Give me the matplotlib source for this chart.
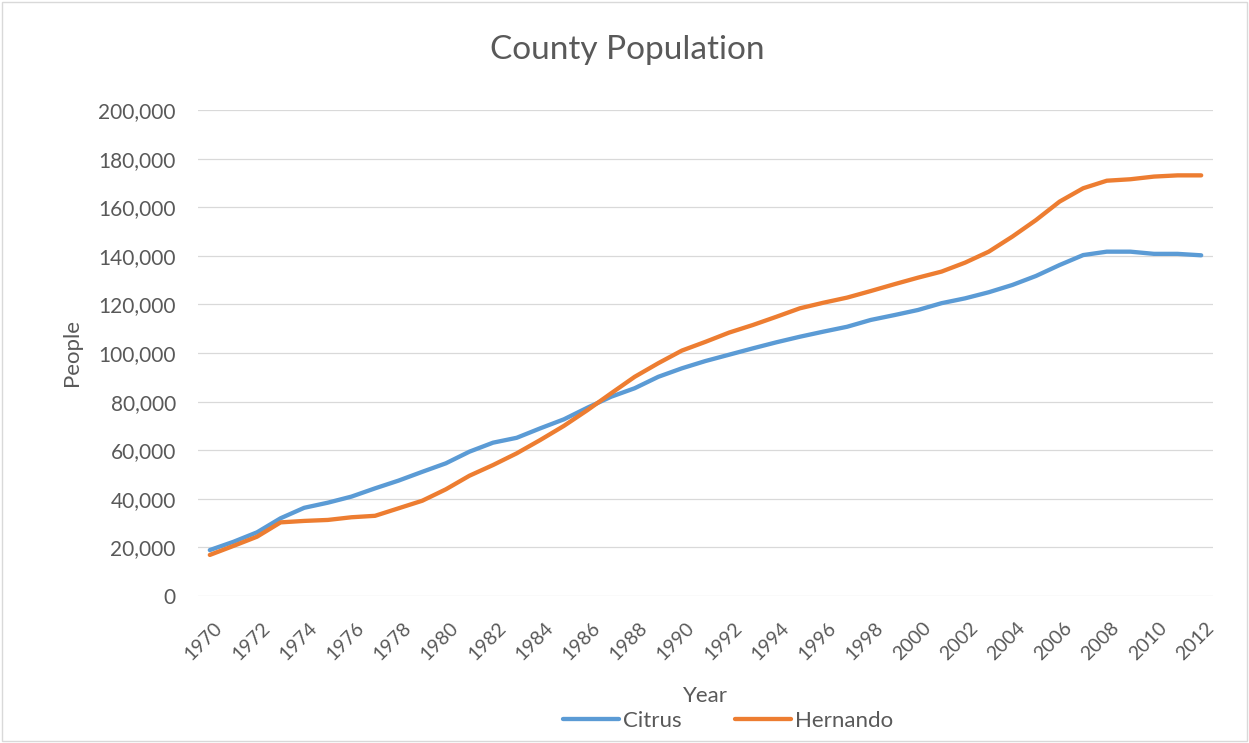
import matplotlib
matplotlib.use("Agg")
import matplotlib.pyplot as plt
import matplotlib.transforms as mtransforms
from matplotlib.patches import Rectangle
from matplotlib.ticker import FuncFormatter

years = list(range(1970, 2013))
citrus = [18900, 22300, 26200, 32000, 36300, 38400, 40900, 44300, 47500, 51100,
          54600, 59400, 63100, 65100, 69000, 72700, 77500, 82000, 85500, 90200,
          93700, 96700, 99300, 101900, 104400, 106700, 108800, 110800, 113600, 115600,
          117700, 120500, 122500, 125000, 128000, 131700, 136200, 140300, 141700, 141700,
          140800, 140800, 140200]
hernando = [16900, 20600, 24400, 30300, 30900, 31300, 32400, 33000, 36100, 39200,
            43900, 49500, 53900, 58700, 64200, 70000, 76500, 83400, 90200, 95800,
            101000, 104600, 108400, 111500, 114900, 118400, 120700, 122800, 125500, 128300,
            131000, 133500, 137200, 141700, 147900, 154700, 162300, 167800, 170900, 171500,
            172600, 173100, 173100]
tick_years = years[::2]
y_ticks = list(range(0, 200001, 20000))

title = "County Population"
x_title = "Year"
y_title = "People"
series_names = ["Citrus", "Hernando"]
colors = ["#5B9BD5", "#ED7D31"]

plt.rcParams['font.family'] = ['Lato', 'DejaVu Sans']
text_color = "#595959"

W, H = 1249, 743
fig = plt.figure(figsize=(W / 100, H / 100), dpi=100)
fig.patch.set_facecolor("white")

# chart border
fig.patches.append(Rectangle((2 / W, 2 / H), (W - 4) / W, (H - 4) / H,
                             transform=fig.transFigure, fill=False,
                             edgecolor="#D9D9D9", linewidth=1.0))

left, right, top, bottom = 198, 1213, 110, 596
ax = fig.add_axes([left / W, 1 - bottom / H, (right - left) / W, (bottom - top) / H])

lw = 3.1
ax.plot(years, citrus, color=colors[0], lw=lw, label=series_names[0],
        solid_capstyle='round', solid_joinstyle='round', zorder=3)
ax.plot(years, hernando, color=colors[1], lw=lw, label=series_names[1],
        solid_capstyle='round', solid_joinstyle='round', zorder=3)

ax.set_xlim(1969.5, 2012.5)
ax.set_ylim(0, 200000)
ax.set_yticks(y_ticks)
ax.yaxis.set_major_formatter(FuncFormatter(lambda v, p: f"{int(v):,}"))
ax.set_xticks(tick_years)
ax.set_xticklabels([str(y) for y in tick_years])

ax.grid(axis='y', color="#D9D9D9", lw=0.9, zorder=0)
ax.grid(axis='x', visible=False)
for s in ax.spines.values():
    s.set_visible(False)

ax.tick_params(axis='y', length=0, pad=16, labelsize=15, labelcolor=text_color)
ax.tick_params(axis='x', length=0, pad=21, labelsize=14, labelcolor=text_color)

offset = mtransforms.ScaledTranslation(10 / 100, 0, fig.dpi_scale_trans)
for lab in ax.get_xticklabels():
    lab.set_rotation(45)
    lab.set_ha('right')
    lab.set_va('center')
    lab.set_rotation_mode('anchor')
    lab.set_transform(lab.get_transform() + offset)

fig.text(627.5 / W, 1 - 59.3 / H, title, ha='center', va='baseline',
         fontsize=24, color=text_color)
fig.text(705 / W, 1 - 702.3 / H, x_title, ha='center', va='baseline',
         fontsize=16, color=text_color)
fig.text(71.5 / W, 1 - 352.3 / H, y_title, ha='center', va='center',
         rotation=90, fontsize=16, color=text_color)

leg = ax.legend(loc='center', bbox_to_anchor=(728.5 / W, 1 - 720.7 / H),
                bbox_transform=fig.transFigure, ncol=2, frameon=False,
                fontsize=16, handlelength=2.5, handletextpad=0.2,
                columnspacing=2.4, borderpad=0, borderaxespad=0)
for t in leg.get_texts():
    t.set_color(text_color)

fig.savefig("out.png", dpi=100, facecolor="white")
